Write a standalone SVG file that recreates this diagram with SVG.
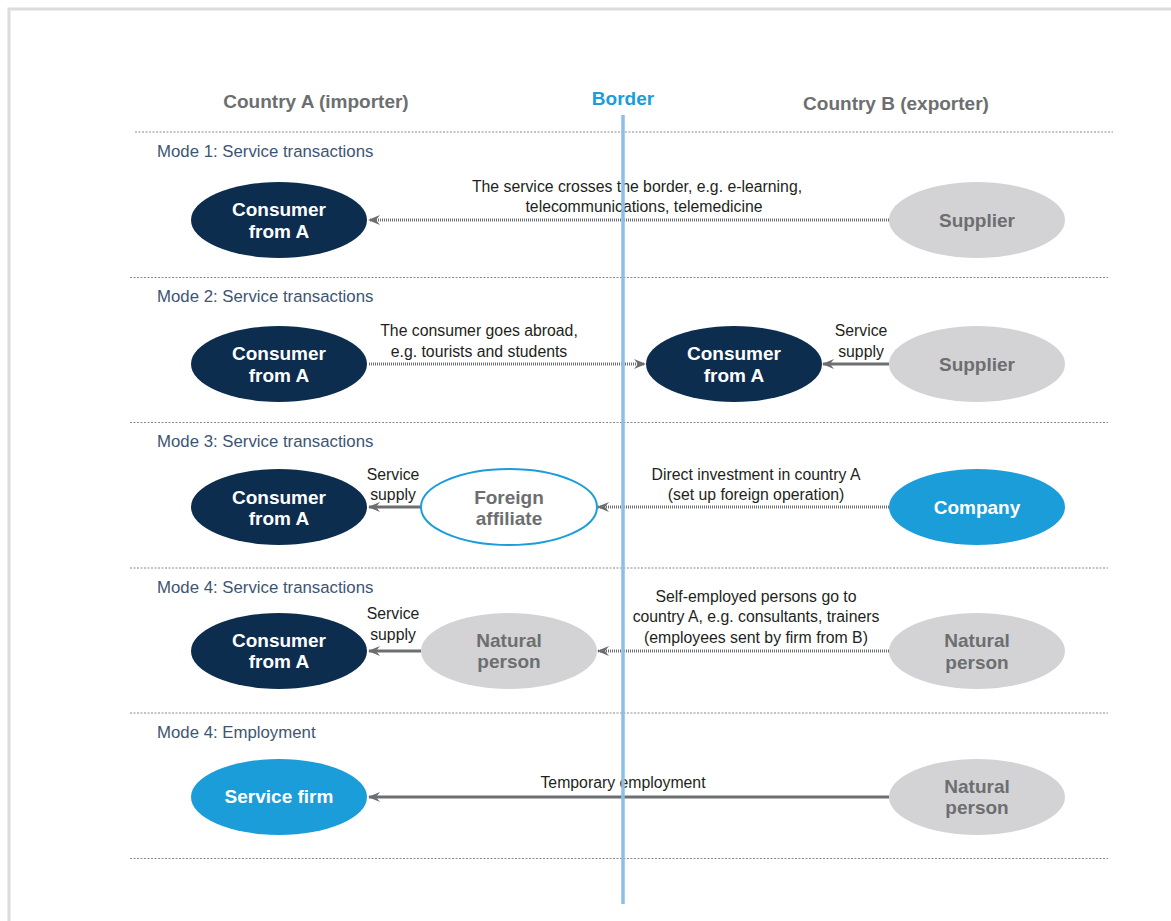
<svg xmlns="http://www.w3.org/2000/svg" width="1171" height="921" viewBox="0 0 1171 921">
<defs>
<style>
.frame{fill:none;stroke:#dcdcdc;stroke-width:3}
.sep{stroke:#8a8a8a;stroke-width:1;stroke-dasharray:2 1.5}
.border{stroke:#8cbfe8;stroke-width:3.5}
.hdr{font-family:"Liberation Sans",Arial,sans-serif;font-weight:bold;font-size:19px;fill:#6d6e70;text-anchor:middle}
.bhdr{font-family:"Liberation Sans",Arial,sans-serif;font-weight:bold;font-size:19px;fill:#1b9dd9;text-anchor:middle}
.mode{font-family:"Liberation Sans",Arial,sans-serif;font-size:16.8px;fill:#3d5573}
.lbl{font-family:"Liberation Sans",Arial,sans-serif;font-size:15.8px;fill:#231f20;text-anchor:middle}
.nt{font-family:"Liberation Sans",Arial,sans-serif;font-weight:bold;font-size:19px;text-anchor:middle}
.navy{fill:#0d2d4f}
.blue{fill:#1b9dd9}
.grey{fill:#d3d3d5}
.outl{fill:#fff;stroke:#1b9dd9;stroke-width:2}
.wt{fill:#fff}
.gt{fill:#6d6e70}
.dot{stroke:#6d6e70;stroke-width:3;stroke-dasharray:1 1;fill:none}
.sol{stroke:#6d6e70;stroke-width:3;fill:none}
</style>
<marker id="ah" viewBox="0 0 12 10" refX="11" refY="5" markerWidth="12" markerHeight="10" markerUnits="userSpaceOnUse" orient="auto">
<path d="M12,5 L0,0 L4,5 L0,10 Z" fill="#6d6e70"/>
</marker>
</defs>
<rect width="1171" height="921" fill="#fff"/>
<path class="frame" d="M9,930 L9,9 L1180,9"/>
<g id="headers">
<text class="hdr" x="316" y="108">Country A (importer)</text>
<text class="bhdr" x="623" y="105">Border</text>
<text class="hdr" x="896" y="110">Country B (exporter)</text>
</g>
<g id="separators">
<line class="sep" x1="135" y1="132" x2="1113" y2="132"/>
<line class="sep" x1="130" y1="277.5" x2="1108" y2="277.5"/>
<line class="sep" x1="130" y1="422.5" x2="1108" y2="422.5"/>
<line class="sep" x1="130" y1="568" x2="1108" y2="568"/>
<line class="sep" x1="130" y1="713" x2="1108" y2="713"/>
<line class="sep" x1="130" y1="858.5" x2="1108" y2="858.5"/>
</g>
<g id="mode-labels">
<text class="mode" x="157" y="157">Mode 1: Service transactions</text>
<text class="mode" x="157" y="302">Mode 2: Service transactions</text>
<text class="mode" x="157" y="447">Mode 3: Service transactions</text>
<text class="mode" x="157" y="593">Mode 4: Service transactions</text>
<text class="mode" x="157" y="738">Mode 4: Employment</text>
</g>
<g id="connectors">
<line class="dot" x1="889" y1="220" x2="369" y2="220" marker-end="url(#ah)"/>
<line class="dot" x1="369" y1="364" x2="645" y2="364" marker-end="url(#ah)"/>
<line class="sol" x1="889" y1="364" x2="823" y2="364" marker-end="url(#ah)"/>
<line class="sol" x1="421" y1="507" x2="369" y2="507" marker-end="url(#ah)"/>
<line class="dot" x1="889" y1="507" x2="598" y2="507" marker-end="url(#ah)"/>
<line class="sol" x1="421" y1="651" x2="369" y2="651" marker-end="url(#ah)"/>
<line class="dot" x1="889" y1="651" x2="598" y2="651" marker-end="url(#ah)"/>
<line class="sol" x1="889" y1="797" x2="369" y2="797" marker-end="url(#ah)"/>
</g>
<g id="connector-labels">
<text class="lbl" x="637" y="192">The service crosses the border, e.g. e-learning,</text>
<text class="lbl" x="644" y="212">telecommunications, telemedicine</text>
<text class="lbl" x="479" y="336">The consumer goes abroad,</text>
<text class="lbl" x="479" y="357">e.g. tourists and students</text>
<text class="lbl" x="861" y="336">Service</text>
<text class="lbl" x="861" y="357">supply</text>
<text class="lbl" x="393" y="480">Service</text>
<text class="lbl" x="393" y="500">supply</text>
<text class="lbl" x="756" y="480">Direct investment in country A</text>
<text class="lbl" x="756" y="500">(set up foreign operation)</text>
<text class="lbl" x="393" y="619">Service</text>
<text class="lbl" x="393" y="640">supply</text>
<text class="lbl" x="756" y="602">Self-employed persons go to</text>
<text class="lbl" x="756" y="622">country A, e.g. consultants, trainers</text>
<text class="lbl" x="756" y="643">(employees sent by firm from B)</text>
<text class="lbl" x="623" y="788">Temporary employment</text>
</g>
<g id="border-line">
<line class="border" x1="623" y1="115" x2="623" y2="904"/>
</g>
<g id="m1-consumer"><ellipse class="navy" cx="279" cy="220" rx="88" ry="38"/><text class="nt wt" x="279" y="216">Consumer</text><text class="nt wt" x="279" y="238">from A</text></g>
<g id="m1-supplier"><ellipse class="grey" cx="977" cy="220" rx="88" ry="38"/><text class="nt gt" x="977" y="227">Supplier</text></g>
<g id="m2-consumer"><ellipse class="navy" cx="279" cy="364" rx="88" ry="38"/><text class="nt wt" x="279" y="360">Consumer</text><text class="nt wt" x="279" y="382">from A</text></g>
<g id="m2-consumer-abroad"><ellipse class="navy" cx="734" cy="364" rx="88" ry="38"/><text class="nt wt" x="734" y="360">Consumer</text><text class="nt wt" x="734" y="382">from A</text></g>
<g id="m2-supplier"><ellipse class="grey" cx="977" cy="364" rx="88" ry="38"/><text class="nt gt" x="977" y="371">Supplier</text></g>
<g id="m3-consumer"><ellipse class="navy" cx="279" cy="507" rx="88" ry="38"/><text class="nt wt" x="279" y="504">Consumer</text><text class="nt wt" x="279" y="525">from A</text></g>
<g id="m3-affiliate"><ellipse class="outl" cx="509" cy="507" rx="88" ry="38"/><text class="nt gt" x="509" y="504">Foreign</text><text class="nt gt" x="509" y="525">affiliate</text></g>
<g id="m3-company"><ellipse class="blue" cx="977" cy="507" rx="88" ry="38"/><text class="nt wt" x="977" y="514">Company</text></g>
<g id="m4-consumer"><ellipse class="navy" cx="279" cy="651" rx="88" ry="38"/><text class="nt wt" x="279" y="647">Consumer</text><text class="nt wt" x="279" y="668">from A</text></g>
<g id="m4-natural-a"><ellipse class="grey" cx="509" cy="651" rx="88" ry="38"/><text class="nt gt" x="509" y="647">Natural</text><text class="nt gt" x="509" y="668">person</text></g>
<g id="m4-natural-b"><ellipse class="grey" cx="977" cy="651" rx="88" ry="38"/><text class="nt gt" x="977" y="647">Natural</text><text class="nt gt" x="977" y="669">person</text></g>
<g id="m5-firm"><ellipse class="blue" cx="279" cy="797" rx="88" ry="38"/><text class="nt wt" x="279" y="803">Service firm</text></g>
<g id="m5-natural"><ellipse class="grey" cx="977" cy="797" rx="88" ry="38"/><text class="nt gt" x="977" y="793">Natural</text><text class="nt gt" x="977" y="814">person</text></g>
</svg>
